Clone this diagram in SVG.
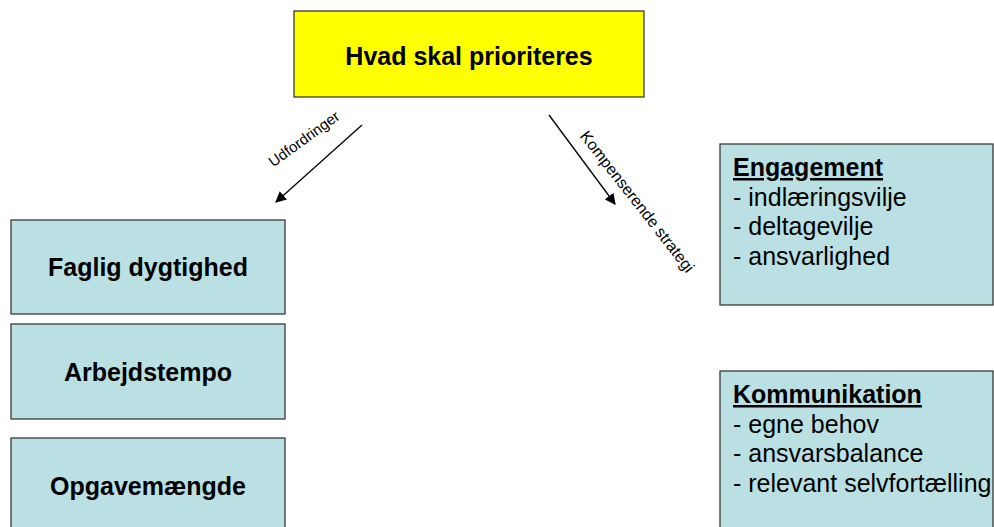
<svg xmlns="http://www.w3.org/2000/svg" width="994" height="527" viewBox="0 0 994 527">
<style>
.box{fill:#BBE0E3;stroke:#3a3a3a;stroke-width:1.3}
.title{fill:#FFFF00;stroke:#3a3a3a;stroke-width:1.3}
.b{font-family:"Liberation Sans",Arial,sans-serif;font-weight:bold;fill:#000}
.r{font-family:"Liberation Sans",Arial,sans-serif;fill:#000}
.c{text-anchor:middle}
.conn{stroke:#000;stroke-width:1.3;fill:none;marker-end:url(#ah)}
</style>
<defs>
<marker id="ah" viewBox="0 0 10 10" refX="9" refY="5" markerWidth="11" markerHeight="11" markerUnits="userSpaceOnUse" orient="auto">
<path d="M0,0 L10,5 L0,10 Z" fill="#000"/>
</marker>
</defs>
<rect width="994" height="527" fill="#fff"/>
<g id="title">
<rect class="title" x="294" y="11" width="350" height="86"/>
<text class="b c" x="469" y="65" font-size="25">Hvad skal prioriteres</text>
</g>
<g id="faglig">
<rect class="box" x="11" y="220" width="274" height="94"/>
<text class="b c" x="148" y="276" font-size="25">Faglig dygtighed</text>
</g>
<g id="arbejdstempo">
<rect class="box" x="11" y="324" width="274" height="95"/>
<text class="b c" x="148" y="381" font-size="25">Arbejdstempo</text>
</g>
<g id="opgavemaengde">
<rect class="box" x="11" y="438" width="274" height="100"/>
<text class="b c" x="148" y="495" font-size="25">Opgavemængde</text>
</g>
<g id="engagement">
<rect class="box" x="720" y="144" width="273" height="161"/>
<text class="b" x="733" y="176" font-size="25" text-decoration="underline">Engagement</text>
<text class="r" x="733" y="206" font-size="25">- indlæringsvilje</text>
<text class="r" x="733" y="235" font-size="25">- deltagevilje</text>
<text class="r" x="733" y="265" font-size="25">- ansvarlighed</text>
</g>
<g id="kommunikation">
<rect class="box" x="720" y="371" width="273" height="170"/>
<text class="b" x="733" y="403" font-size="25" text-decoration="underline">Kommunikation</text>
<text class="r" x="733" y="433" font-size="25">- egne behov</text>
<text class="r" x="733" y="462" font-size="25">- ansvarsbalance</text>
<text class="r" x="733" y="492" font-size="25">- relevant selvfortælling</text>
</g>
<g id="connectors">
<line class="conn" x1="362" y1="125" x2="276" y2="202"/>
<line class="conn" x1="549" y1="115" x2="615" y2="204"/>
<text class="r c" font-size="15" transform="translate(307,143) rotate(-36)">Udfordringer</text>
<text class="r c" font-size="16" transform="translate(633,205) rotate(52)">Kompenserende strategi</text>
</g>
</svg>
